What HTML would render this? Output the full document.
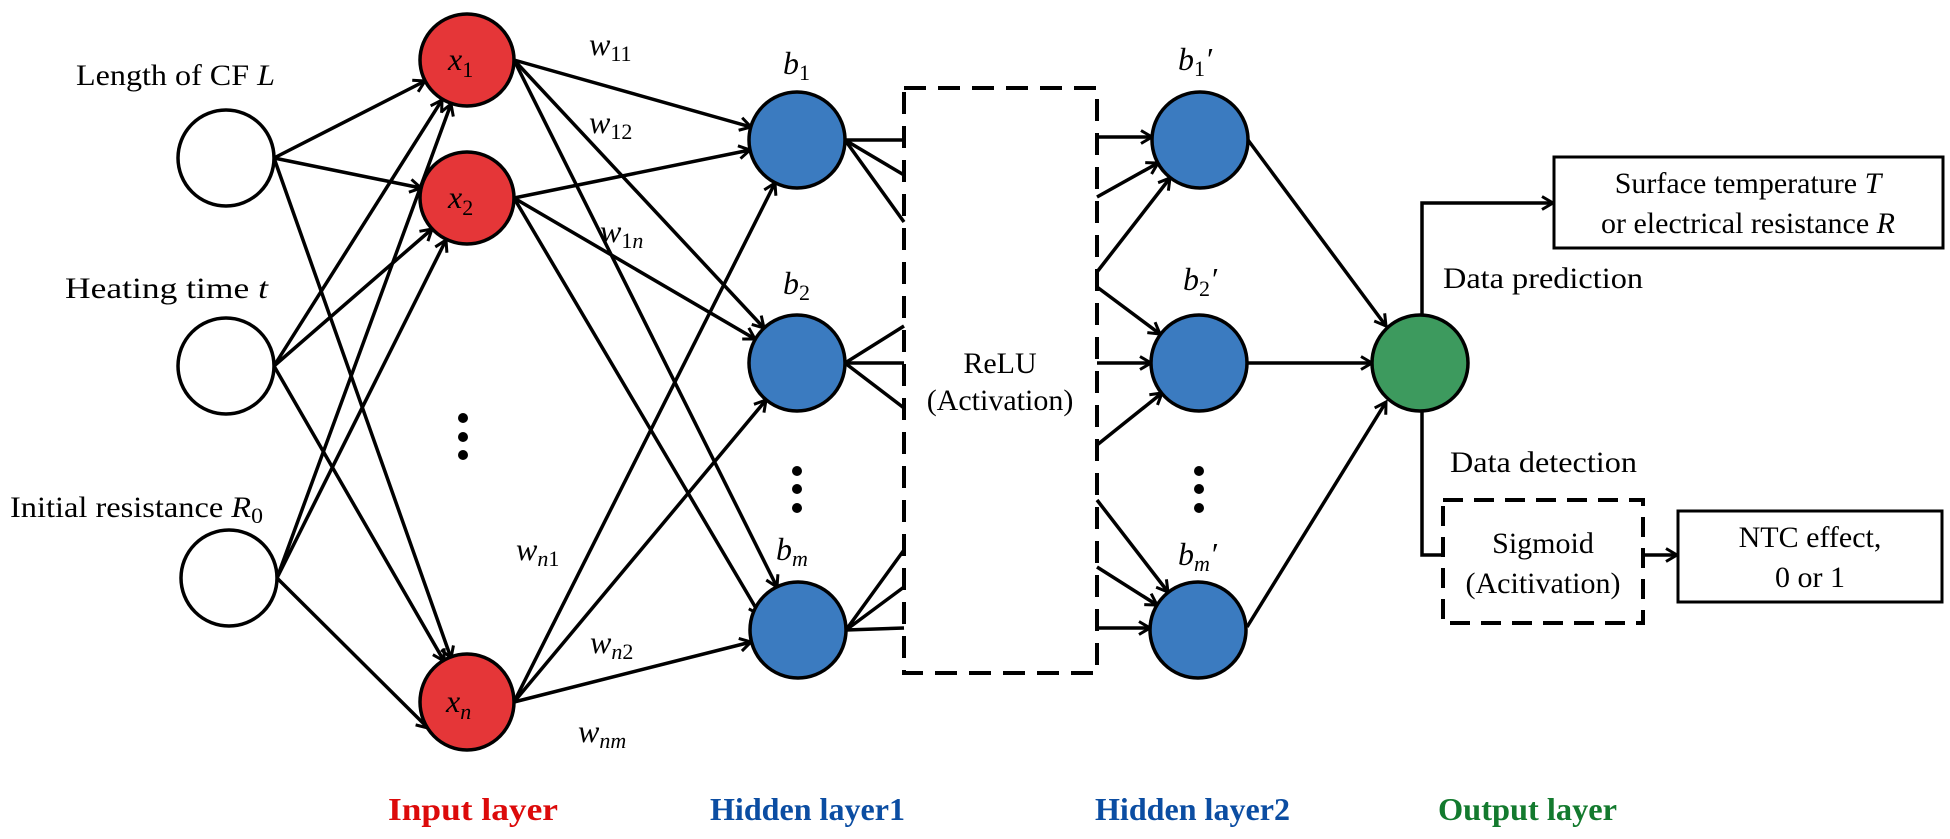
<!DOCTYPE html>
<html><head><meta charset="utf-8"><style>
html,body{margin:0;padding:0;background:#fff;}
svg{display:block;}
text{font-family:"Liberation Serif",serif;fill:#000;}
.m{font-style:italic;font-size:32px;}
.s{font-size:22px;font-style:normal;}
.si{font-size:22px;font-style:italic;}
.t{font-size:30px;}
.b{font-size:32px;font-weight:bold;}
</style></head><body>
<svg width="1950" height="839" viewBox="0 0 1950 839" xmlns="http://www.w3.org/2000/svg">
<defs>
<marker id="a" markerUnits="userSpaceOnUse" markerWidth="16" markerHeight="16" refX="13" refY="8" orient="auto">
<path d="M2,1.5 L13,8 L2,14.5" fill="none" stroke="#000" stroke-width="3"/>
</marker>
</defs>
<g stroke="#000" stroke-width="3.5" fill="none">
<line x1="274" y1="158" x2="425" y2="81" marker-end="url(#a)"/>
<line x1="274" y1="158" x2="421" y2="188" marker-end="url(#a)"/>
<line x1="274" y1="158" x2="451" y2="658" marker-end="url(#a)"/>
<line x1="274" y1="366" x2="442" y2="100" marker-end="url(#a)"/>
<line x1="274" y1="366" x2="432" y2="229" marker-end="url(#a)"/>
<line x1="274" y1="366" x2="444" y2="661" marker-end="url(#a)"/>
<line x1="277" y1="578" x2="451" y2="104" marker-end="url(#a)"/>
<line x1="277" y1="578" x2="446" y2="240" marker-end="url(#a)"/>
<line x1="277" y1="578" x2="428" y2="728" marker-end="url(#a)"/>
<line x1="514" y1="60" x2="751" y2="127" marker-end="url(#a)"/>
<line x1="514" y1="60" x2="764" y2="328" marker-end="url(#a)"/>
<line x1="514" y1="60" x2="777" y2="587" marker-end="url(#a)"/>
<line x1="514" y1="198" x2="750" y2="150" marker-end="url(#a)"/>
<line x1="514" y1="198" x2="755" y2="339" marker-end="url(#a)"/>
<line x1="514" y1="198" x2="760" y2="615" marker-end="url(#a)"/>
<line x1="514" y1="702" x2="775" y2="183" marker-end="url(#a)"/>
<line x1="514" y1="702" x2="766" y2="400" marker-end="url(#a)"/>
<line x1="514" y1="702" x2="751" y2="642" marker-end="url(#a)"/>
<polyline points="904,140 845,140 904,175"/>
<line x1="845" y1="140" x2="904" y2="222"/>
<polyline points="904,326 845,363 904,408"/>
<line x1="845" y1="363" x2="904" y2="363"/>
<polyline points="904,550 846,630 904,587"/>
<line x1="846" y1="630" x2="904" y2="628"/>
<line x1="1097" y1="137" x2="1152" y2="137" marker-end="url(#a)"/>
<line x1="1097" y1="197" x2="1158" y2="163" marker-end="url(#a)"/>
<line x1="1097" y1="272" x2="1170" y2="178" marker-end="url(#a)"/>
<line x1="1097" y1="287" x2="1160" y2="334" marker-end="url(#a)"/>
<line x1="1097" y1="363" x2="1151" y2="363" marker-end="url(#a)"/>
<line x1="1097" y1="445" x2="1162" y2="393" marker-end="url(#a)"/>
<line x1="1097" y1="500" x2="1168" y2="592" marker-end="url(#a)"/>
<line x1="1097" y1="567" x2="1157" y2="605" marker-end="url(#a)"/>
<line x1="1097" y1="628" x2="1150" y2="628" marker-end="url(#a)"/>
<line x1="1248" y1="140" x2="1386" y2="326" marker-end="url(#a)"/>
<line x1="1247" y1="363" x2="1372" y2="363" marker-end="url(#a)"/>
<line x1="1247" y1="627" x2="1386" y2="402" marker-end="url(#a)"/>
<polyline points="1422,315 1422,203 1553,203" marker-end="url(#a)"/>
<polyline points="1422,411 1422,555 1443,555"/>
<line x1="1643" y1="555" x2="1677" y2="555" marker-end="url(#a)"/>
</g>
<rect x="904" y="88" width="193" height="585" fill="none" stroke="#000" stroke-width="4" stroke-dasharray="22,12"/>
<rect x="1443" y="500" width="200" height="123" fill="none" stroke="#000" stroke-width="4" stroke-dasharray="20,11"/>
<rect x="1554" y="157" width="389" height="91" fill="#fff" stroke="#000" stroke-width="3"/>
<rect x="1678" y="511" width="264" height="91" fill="#fff" stroke="#000" stroke-width="3"/>
<g stroke="#000" stroke-width="3.5">
<circle cx="226" cy="158" r="48" fill="#fff"/>
<circle cx="226" cy="366" r="48" fill="#fff"/>
<circle cx="229" cy="578" r="48" fill="#fff"/>
<ellipse cx="467" cy="60" rx="47" ry="46" fill="#e53638"/>
<ellipse cx="467" cy="198" rx="47" ry="46" fill="#e53638"/>
<ellipse cx="467" cy="702" rx="47" ry="48" fill="#e53638"/>
<circle cx="797" cy="140" r="48" fill="#3b7bc0"/>
<circle cx="797" cy="363" r="48" fill="#3b7bc0"/>
<circle cx="798" cy="630" r="48" fill="#3b7bc0"/>
<circle cx="1200" cy="140" r="48" fill="#3b7bc0"/>
<circle cx="1199" cy="363" r="48" fill="#3b7bc0"/>
<circle cx="1198" cy="630" r="48" fill="#3b7bc0"/>
<circle cx="1420" cy="363" r="48" fill="#3d9a5e"/>
</g>
<g fill="#000">
<circle cx="463" cy="418" r="5"/><circle cx="463" cy="437" r="5"/><circle cx="463" cy="455" r="5"/>
<circle cx="797" cy="471" r="5"/><circle cx="797" cy="489" r="5"/><circle cx="797" cy="508" r="5"/>
<circle cx="1199" cy="471" r="5"/><circle cx="1199" cy="489" r="5"/><circle cx="1199" cy="508" r="5"/>
</g>
<text class="t" x="76" y="85" textLength="199" lengthAdjust="spacingAndGlyphs">Length of CF <tspan font-style="italic">L</tspan></text>
<text class="t" x="65" y="298" textLength="203" lengthAdjust="spacingAndGlyphs">Heating time   <tspan font-style="italic">t</tspan></text>
<text class="t" x="10" y="517" textLength="253" lengthAdjust="spacingAndGlyphs">Initial resistance <tspan font-style="italic">R</tspan><tspan font-size="22" dy="6">0</tspan></text>
<text class="m" x="448" y="70">x<tspan class="s" dy="7">1</tspan></text>
<text class="m" x="448" y="208">x<tspan class="s" dy="7">2</tspan></text>
<text class="m" x="446" y="712">x<tspan class="si" dy="7">n</tspan></text>
<text class="m" x="589" y="55">w<tspan class="s" dy="6">11</tspan></text>
<text class="m" x="589" y="133">w<tspan class="s" dy="6">12</tspan></text>
<text class="m" x="600" y="242">w<tspan class="s" dy="6">1</tspan><tspan class="si">n</tspan></text>
<text class="m" x="516" y="560">w<tspan class="si" dy="6">n</tspan><tspan class="s">1</tspan></text>
<text class="m" x="590" y="653">w<tspan class="si" dy="6">n</tspan><tspan class="s">2</tspan></text>
<text class="m" x="578" y="742">w<tspan class="si" dy="6">nm</tspan></text>
<text class="m" x="783" y="74">b<tspan class="s" dy="6">1</tspan></text>
<text class="m" x="783" y="294">b<tspan class="s" dy="6">2</tspan></text>
<text class="m" x="776" y="560">b<tspan class="si" dy="6">m</tspan></text>
<text class="m" x="1178" y="70">b<tspan class="s" dy="6">1</tspan><tspan dy="-6">′</tspan></text>
<text class="m" x="1183" y="290">b<tspan class="s" dy="6">2</tspan><tspan dy="-6">′</tspan></text>
<text class="m" x="1178" y="565">b<tspan class="si" dy="6">m</tspan><tspan dy="-6">′</tspan></text>
<text class="t" x="1000" y="373" text-anchor="middle">ReLU</text>
<text class="t" x="1000" y="410" text-anchor="middle">(Activation)</text>
<text class="t" x="1748" y="193" text-anchor="middle">Surface temperature <tspan font-style="italic">T</tspan></text>
<text class="t" x="1748" y="233" text-anchor="middle">or electrical resistance <tspan font-style="italic">R</tspan></text>
<text class="t" x="1443" y="288" textLength="200" lengthAdjust="spacingAndGlyphs">Data prediction</text>
<text class="t" x="1450" y="472" textLength="187" lengthAdjust="spacingAndGlyphs">Data detection</text>
<text class="t" x="1543" y="553" text-anchor="middle">Sigmoid</text>
<text class="t" x="1543" y="593" text-anchor="middle">(Acitivation)</text>
<text class="t" x="1810" y="547" text-anchor="middle">NTC effect,</text>
<text class="t" x="1810" y="587" text-anchor="middle">0 or 1</text>
<text class="b" x="388" y="820" textLength="170" lengthAdjust="spacingAndGlyphs" style="fill:#dc0a0a">Input layer</text>
<text class="b" x="710" y="820" textLength="195" lengthAdjust="spacingAndGlyphs" style="fill:#0b4da2">Hidden layer1</text>
<text class="b" x="1095" y="820" textLength="195" lengthAdjust="spacingAndGlyphs" style="fill:#0b4da2">Hidden layer2</text>
<text class="b" x="1438" y="820" textLength="179" lengthAdjust="spacingAndGlyphs" style="fill:#137a2e">Output layer</text>
</svg>
</body></html>
